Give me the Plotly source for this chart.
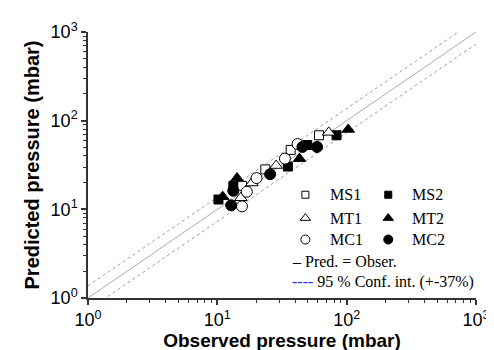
import plotly.graph_objects as go

# ---- data (observed, predicted) in mbar ----
MS1_obs = [15.5, 23.5, 36.9, 61.1]
MS1_pred = [18.4, 28.2, 46.8, 68.4]
MS2_obs = [10.2, 13.3, 35.1, 49.6, 83.5]
MS2_pred = [12.9, 18.4, 30.4, 53.1, 68.4]
MT1_obs = [15.2, 18.5, 28.5, 72.7]
MT1_pred = [13.5, 19.8, 31.2, 73.8]
MT2_obs = [11.0, 14.2, 43.2, 102.8]
MT2_pred = [13.9, 22.5, 37.3, 79.6]
MC1_obs = [15.5, 16.9, 20.1, 33.3, 41.7]
MC1_pred = [10.8, 15.8, 22.5, 37.3, 54.5]
MC2_obs = [12.8, 13.3, 25.6, 45.5, 59.0]
MC2_pred = [11.1, 16.2, 24.9, 50.5, 50.5]
CONF_FACTOR = 1.37
LINE_X = [1, 1000]
tick_vals = [1, 10, 100, 1000]
tick_text = ["10<sup>0</sup>", "10<sup>1</sup>", "10<sup>2</sup>", "10<sup>3</sup>"]
series_names = ["MS1", "MS2", "MT1", "MT2", "MC1", "MC2"]

W, H = 494, 350
L, R, T, B = 80, 16, 22, 55
PW, PH = W - L - R, H - T - B

def px2paper(x, y):
    return (x - L) / PW, (H - B - y) / PH

fig = go.Figure()

# reference lines
fig.add_trace(go.Scatter(x=LINE_X, y=[v * CONF_FACTOR for v in LINE_X], mode="lines",
                         line=dict(color="#9a9ab8", width=1, dash="dot"), showlegend=False))
fig.add_trace(go.Scatter(x=LINE_X, y=[v / CONF_FACTOR for v in LINE_X], mode="lines",
                         line=dict(color="#9a9ab8", width=1, dash="dot"), showlegend=False))
fig.add_trace(go.Scatter(x=LINE_X, y=LINE_X, mode="lines",
                         line=dict(color="#aaaaaa", width=1), showlegend=False))

styles = {
    "MS1": ("square", "white", 9),
    "MS2": ("square", "black", 9),
    "MT1": ("triangle-up", "white", 11),
    "MT2": ("triangle-up", "black", 11),
    "MC1": ("circle", "white", 11),
    "MC2": ("circle", "black", 11),
}
data = {
    "MS1": (MS1_obs, MS1_pred), "MS2": (MS2_obs, MS2_pred),
    "MT1": (MT1_obs, MT1_pred), "MT2": (MT2_obs, MT2_pred),
    "MC1": (MC1_obs, MC1_pred), "MC2": (MC2_obs, MC2_pred),
}
for name in series_names:
    sym, fill, size = styles[name]
    xs, ys = data[name]
    fig.add_trace(go.Scatter(x=xs, y=ys, mode="markers", name=name, showlegend=False,
                             marker=dict(symbol=sym, color=fill, size=size,
                                         line=dict(color="black", width=1))))

# custom legend (on hidden overlay axes in paper units)
leg_rows = [("MS1", "MS2", 189), ("MT1", "MT2", 213), ("MC1", "MC2", 235)]
legend_font = dict(family="Liberation Serif", size=16, color="black")
for a, b, ypx in leg_rows:
    for name, sx, tx in ((a, 303, 326), (b, 388, 410)):
        sym, fill, size = styles[name]
        px, py = px2paper(sx, ypx)
        fig.add_trace(go.Scatter(x=[px], y=[py], xaxis="x2", yaxis="y2", mode="markers",
                                 showlegend=False, hoverinfo="skip",
                                 marker=dict(symbol=sym, color=fill, size=size - 2,
                                             line=dict(color="black", width=1))))
        ax, ay = px2paper(tx, ypx)
        fig.add_annotation(x=ax, y=ay, xref="paper", yref="paper", text=name,
                           showarrow=False, xanchor="left", yanchor="middle", font=legend_font)

ax, ay = px2paper(287, 258)
fig.add_annotation(x=ax, y=ay, xref="paper", yref="paper", text="– Pred. = Obser.",
                   showarrow=False, xanchor="left", yanchor="middle", font=legend_font)
ax, ay = px2paper(287, 279)
fig.add_annotation(x=ax, y=ay, xref="paper", yref="paper",
                   text="<span style='color:#2233ee'>----</span> 95 % Conf. int. (+-37%)",
                   showarrow=False, xanchor="left", yanchor="middle", font=legend_font)

axis_common = dict(
    type="log", range=[0, 3], tickvals=tick_vals, ticktext=tick_text,
    ticks="outside", ticklen=5, tickwidth=1.5, tickcolor="#333",
    showline=True, linecolor="#333", linewidth=1.5, showgrid=False, zeroline=False,
    tickfont=dict(family="Liberation Sans", size=18, color="black"),
    minor=dict(ticks="outside", ticklen=3, tickwidth=1, tickcolor="#333",
               tickmode="array",
               tickvals=[m * d for d in (1, 10, 100) for m in range(2, 10)]),
)

fig.update_layout(
    width=W, height=H,
    margin=dict(l=L, r=R, t=T, b=B),
    paper_bgcolor="white", plot_bgcolor="white",
    showlegend=False,
    xaxis=dict(axis_common,
               title=dict(text="<b>Observed pressure (mbar)</b>", standoff=2,
                          font=dict(family="Liberation Sans", size=19, color="black"))),
    yaxis=dict(axis_common,
               title=dict(text="<b>Predicted pressure (mbar)</b>", standoff=6,
                          font=dict(family="Liberation Sans", size=20, color="black"))),
    xaxis2=dict(overlaying="x", range=[0, 1], visible=False, domain=[0, 1]),
    yaxis2=dict(overlaying="y", range=[0, 1], visible=False, domain=[0, 1]),
)

fig.write_html("out.html")
